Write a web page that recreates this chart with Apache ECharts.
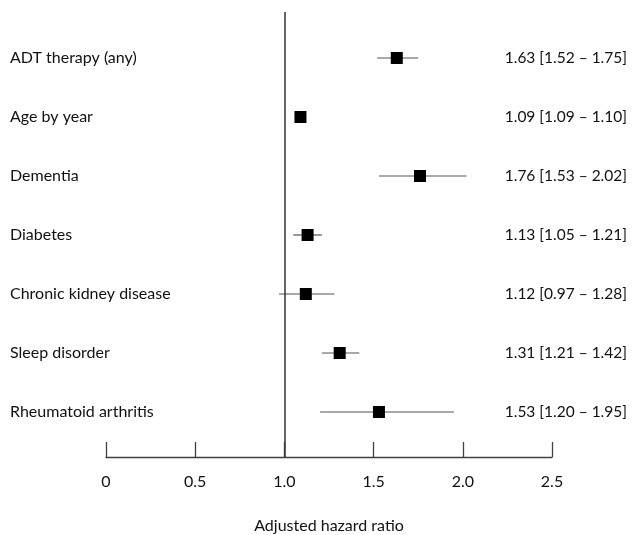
<!DOCTYPE html>
<html>
<head>
<meta charset="utf-8">
<script src="https://cdn.jsdelivr.net/npm/echarts@6/dist/echarts.min.js"></script>
<style>html,body{margin:0;padding:0;background:#fff}#c{width:634px;height:535px}</style>
</head>
<body>
<div id="c"></div>
<script>
const categories = ['ADT therapy (any)','Age by year','Dementia','Diabetes','Chronic kidney disease','Sleep disorder','Rheumatoid arthritis'];
const hr = [1.63, 1.09, 1.76, 1.13, 1.12, 1.31, 1.53];
const lower = [1.52, 1.09, 1.53, 1.05, 0.97, 1.21, 1.20];
const upper = [1.75, 1.10, 2.02, 1.21, 1.28, 1.42, 1.95];
const ciText = ['1.63 [1.52 \u2013 1.75]','1.09 [1.09 \u2013 1.10]','1.76 [1.53 \u2013 2.02]','1.13 [1.05 \u2013 1.21]','1.12 [0.97 \u2013 1.28]','1.31 [1.21 \u2013 1.42]','1.53 [1.20 \u2013 1.95]'];
const xTicks = [0, 0.5, 1.0, 1.5, 2.0, 2.5];
const xTickLabels = ['0','0.5','1.0','1.5','2.0','2.5'];
const refValue = 1.0;

const rows = categories.map((c, i) => i);
const font = 'Lato, "Open Sans", sans-serif';
const fs = 16;
const chart = echarts.init(document.getElementById('c'));
chart.setOption({
  animation: false,
  grid: { left: 106, right: 82, top: 12, bottom: 78, containLabel: false, outerBoundsMode: 'none' },
  xAxis: {
    type: 'value', min: 0, max: 2.5, interval: 0.5,
    axisLine: { show: true, onZero: false, lineStyle: { color: '#404040', width: 1.3 } },
    axisTick: { show: true, inside: true, length: 15, lineStyle: { color: '#404040', width: 1.3 } },
    splitLine: { show: false },
    axisLabel: { margin: 17, color: '#111', fontSize: fs, fontFamily: font,
      formatter: v => { const k = xTicks.findIndex(t => Math.abs(t - v) < 1e-9); return k >= 0 ? xTickLabels[k] : ''; } },
    name: 'Adjusted hazard ratio', nameLocation: 'middle', nameGap: 61,
    nameTextStyle: { color: '#111', fontSize: fs, fontFamily: font }
  },
  yAxis: [{
    type: 'value', min: -0.78, max: 6.763, inverse: true, position: 'left',
    axisLine: { show: false }, axisTick: { show: false }, splitLine: { show: false },
    axisLabel: { customValues: rows, align: 'left', margin: 96, color: '#111', fontSize: fs, fontFamily: font,
      formatter: v => categories[Math.round(v)] || '' }
  }, {
    type: 'value', min: -0.78, max: 6.763, inverse: true, position: 'right',
    axisLine: { show: false }, axisTick: { show: false }, splitLine: { show: false },
    axisLabel: { customValues: rows, align: 'right', margin: 75, color: '#111', fontSize: 15.5, fontFamily: font,
      formatter: v => ciText[Math.round(v)] || '' }
  }],
  series: [{
    type: 'custom',
    renderItem: (params, api) => {
      const y = api.value(2);
      const p1 = api.coord([api.value(0), y]);
      const p2 = api.coord([api.value(1), y]);
      return { type: 'line', shape: { x1: p1[0], y1: p1[1], x2: p2[0], y2: p2[1] },
        style: { stroke: '#555', lineWidth: 1.2 } };
    },
    encode: { x: [0, 1], y: 2 },
    data: rows.map(i => [lower[i], upper[i], i]),
    z: 2
  }, {
    type: 'scatter', symbol: 'rect', symbolSize: 12,
    itemStyle: { color: '#000', opacity: 1 },
    data: rows.map(i => [hr[i], i]),
    z: 3,
    markLine: { silent: true, symbol: 'none', label: { show: false },
      lineStyle: { color: '#333', width: 1.5, type: 'solid' },
      data: [{ xAxis: refValue }] }
  }]
});
</script>
</body>
</html>
